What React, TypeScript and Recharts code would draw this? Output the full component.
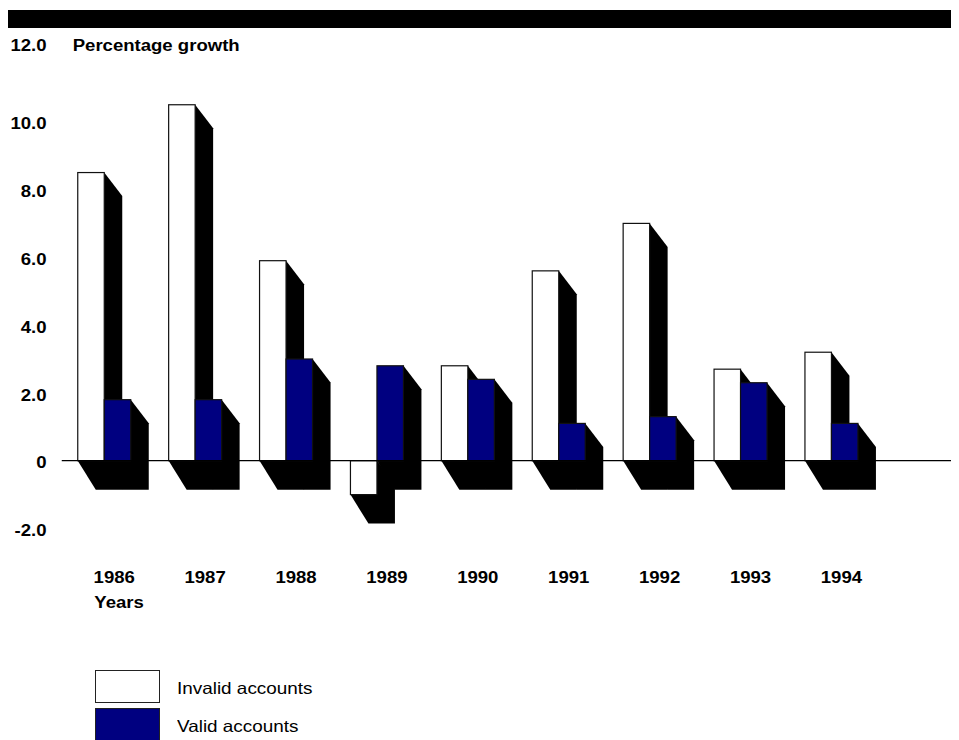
import React from 'react';
import { BarChart, Bar, XAxis, YAxis, ReferenceLine } from 'recharts';

const years = ['1986', '1987', '1988', '1989', '1990', '1991', '1992', '1993', '1994'];
const invalidAccounts = [8.5, 10.5, 5.9, -1.0, 2.8, 5.6, 7.0, 2.7, 3.2];
const validAccounts = [1.8, 1.8, 3.0, 2.8, 2.4, 1.1, 1.3, 2.3, 1.1];
const yTicks = [-2, 0, 2, 4, 6, 8, 10, 12];
const seriesNames = ['Invalid accounts', 'Valid accounts'];
const seriesColors = ['#ffffff', '#000080'];

const data = years.map((y, i) => ({ year: y, invalid: invalidAccounts[i], valid: validAccounts[i] }));

const FONT = '"Liberation Sans", Arial, Helvetica, sans-serif';
const SX = 1.16;
const SHADOW_DX = 18;
const SHADOW_DY_TOP = 23.5;
const SHADOW_DY_BOTTOM = 29;

const SText = ({ x, y, anchor = 'start', bold = true, size = 16, children }: any) => (
  <text
    transform={`translate(${x},${y}) scale(${SX},1)`}
    x={0}
    y={0}
    textAnchor={anchor}
    fontFamily={FONT}
    fontWeight={bold ? 'bold' : 'normal'}
    fontSize={size}
    fill="#000"
  >
    {children}
  </text>
);

const ShadowBar = (props: any) => {
  const { x, y, width, height, fill } = props;
  if (x == null || y == null) return null;
  const top = Math.min(y, y + height);
  const bottom = Math.max(y, y + height);
  const L = x;
  const R = x + width;
  const pts = [
    [R, top],
    [R + SHADOW_DX, top + SHADOW_DY_TOP],
    [R + SHADOW_DX, bottom + SHADOW_DY_BOTTOM],
    [L + SHADOW_DX, bottom + SHADOW_DY_BOTTOM],
    [L, bottom],
  ]
    .map((p) => p.join(','))
    .join(' ');
  return (
    <g>
      <polygon points={pts} fill="#000" stroke="none" />
      <rect x={L} y={top} width={width} height={bottom - top} fill={fill} stroke="#111" strokeWidth={1.2} />
    </g>
  );
};

const YTick = (props: any) => {
  const { y, payload } = props;
  const v = payload.value;
  const label = v === 0 ? '0' : v.toFixed(1);
  const yy = v === 12 ? y - 2.9 : y + 7.6;
  return (
    <SText x={38.5} y={yy} anchor="end">
      {label}
    </SText>
  );
};

const XTick = (props: any) => {
  const { x, y, payload } = props;
  return (
    <SText x={x + 10} y={y + 46} anchor="middle">
      {payload.value}
    </SText>
  );
};

const ZeroLine = (props: any) => {
  const { x1, y1, x2, y2 } = props;
  return <line x1={x1 + 3} y1={y1} x2={x2} y2={y2} stroke="#000" strokeWidth={1.3} />;
};

const YTitle = () => (
  <SText x={64.7} y={43}>
    Percentage growth
  </SText>
);

const XTitle = () => (
  <SText x={86.3} y={600}>
    Years
  </SText>
);

export default function App() {
  return (
    <div style={{ position: 'relative', width: 951, height: 732, overflow: 'hidden', background: '#fff' }}>
      <style>{`#root{width:951px;}`}</style>
      <div style={{ position: 'absolute', left: 0, top: 2, width: 951, height: 18, background: '#000' }} />
      <div style={{ position: 'absolute', left: 0, top: 0 }}>
        <BarChart
          width={951}
          height={720}
          data={data}
          margin={{ top: 45.9, right: 6, bottom: 99.5, left: 0 }}
          barSize={26.5}
          barGap={0}
        >
          <YAxis
            width={50.75}
            domain={[-2, 12]}
            ticks={yTicks}
            interval={0}
            axisLine={false}
            tickLine={false}
            tick={<YTick />}
            label={<YTitle />}
          />
          <XAxis
            dataKey="year"
            height={100}
            axisLine={false}
            tickLine={false}
            interval={0}
            padding={{ left: 0, right: 76.15 }}
            tick={<XTick />}
            label={<XTitle />}
          />
          <Bar dataKey="invalid" name={seriesNames[0]} fill={seriesColors[0]} shape={<ShadowBar />} isAnimationActive={false} />
          <Bar dataKey="valid" name={seriesNames[1]} fill={seriesColors[1]} shape={<ShadowBar />} isAnimationActive={false} />
          <ReferenceLine y={0} shape={<ZeroLine />} />
        </BarChart>
      </div>
      {seriesNames.map((name, i) => (
        <div key={name} style={{ position: 'absolute', left: 87, top: 662 + i * 38, width: 300, height: 40 }}>
          <div
            style={{
              position: 'absolute',
              left: 0,
              top: 0,
              width: 63,
              height: 31 + i * 8,
              background: seriesColors[i],
              border: '1px solid #222',
            }}
          />
          <svg style={{ position: 'absolute', left: 81.7, top: 0 }} width={200} height={40}>
            <SText x={0} y={24} bold={false} size={16.3}>
              {name}
            </SText>
          </svg>
        </div>
      ))}
    </div>
  );
}
